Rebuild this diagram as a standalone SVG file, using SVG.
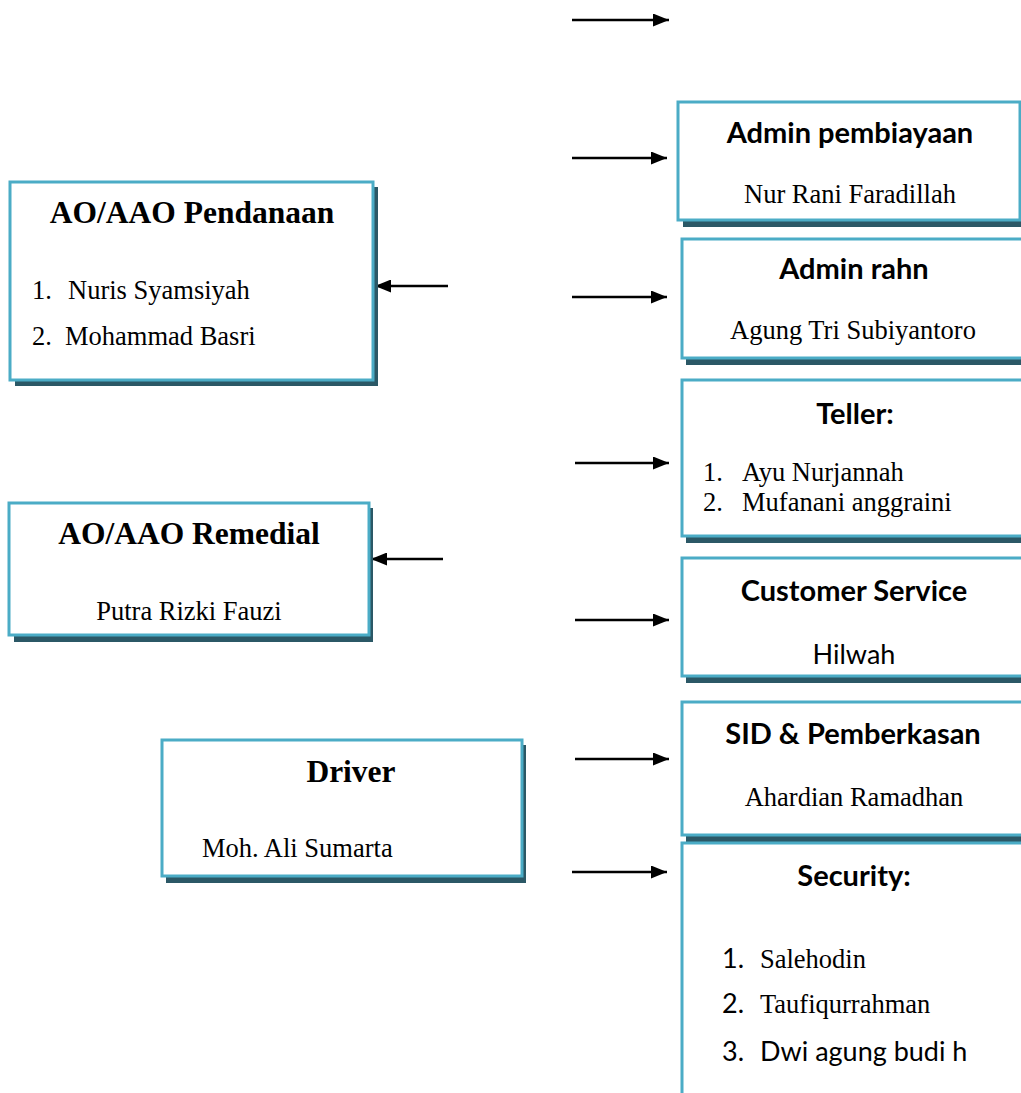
<svg xmlns="http://www.w3.org/2000/svg" width="1021" height="1093" viewBox="0 0 1021 1093">
<defs>
<marker id="ah" markerWidth="16" markerHeight="13" refX="16" refY="6.5" orient="auto" markerUnits="userSpaceOnUse">
<path d="M0,0 L16,6.5 L0,13 Z" fill="#000"/>
</marker>
</defs>
<style>
.sh{fill:#2b5866}
.bx{fill:#fff;stroke:#4bacc6;stroke-width:3}
.tt{font-family:"Liberation Serif",serif;font-weight:bold;font-size:31.5px;fill:#000}
.tr{font-family:"Liberation Serif",serif;font-size:26.5px;fill:#000}
.cb{font-family:Lato,"Open Sans",sans-serif;font-weight:bold;font-size:29px;fill:#000}
.cr{font-family:Lato,"Open Sans",sans-serif;font-size:27px;fill:#000}
.c{text-anchor:middle}
.ln{stroke:#000;stroke-width:2.5;fill:none;marker-end:url(#ah)}
</style>
<rect width="1021" height="1093" fill="#fff"/>
<g id="connectors">
<line class="ln" x1="572" y1="20" x2="669" y2="20"/>
<line class="ln" x1="572" y1="158" x2="667" y2="158"/>
<line class="ln" x1="572" y1="297" x2="667" y2="297"/>
<line class="ln" x1="575" y1="463" x2="669" y2="463"/>
<line class="ln" x1="575" y1="620" x2="669" y2="620"/>
<line class="ln" x1="575" y1="759" x2="669" y2="759"/>
<line class="ln" x1="572" y1="872" x2="667" y2="872"/>
<line class="ln" x1="448" y1="286" x2="375" y2="286"/>
<line class="ln" x1="443" y1="559" x2="371" y2="559"/>
</g>
<g id="ao-pendanaan">
<rect class="sh" x="15" y="187" width="363" height="199"/>
<rect class="bx" x="10" y="182" width="363" height="198"/>
<text class="tt c" x="192" y="223">AO/AAO Pendanaan</text>
<text class="tr" x="32" y="299">1.</text><text class="tr" x="68" y="299">Nuris Syamsiyah</text>
<text class="tr" x="32" y="345">2.</text><text class="tr" x="65" y="345">Mohammad Basri</text>
</g>
<g id="ao-remedial">
<rect class="sh" x="14" y="508" width="359" height="134"/>
<rect class="bx" x="9" y="503" width="360" height="132"/>
<text class="tt c" x="189" y="544">AO/AAO Remedial</text>
<text class="tr c" x="189" y="620">Putra Rizki Fauzi</text>
</g>
<g id="driver">
<rect class="sh" x="166" y="745" width="360" height="138"/>
<rect class="bx" x="162" y="740" width="360" height="136"/>
<text class="tt c" x="351" y="782">Driver</text>
<text class="tr" x="202" y="857">Moh. Ali Sumarta</text>
</g>
<g id="admin-pembiayaan">
<rect class="sh" x="683" y="106" width="338" height="121"/>
<rect class="bx" x="678" y="102" width="342" height="118"/>
<text class="cb c" x="850" y="143">Admin pembiayaan</text>
<text class="tr c" x="850" y="203">Nur Rani Faradillah</text>
</g>
<g id="admin-rahn">
<rect class="sh" x="686" y="243" width="340" height="122"/>
<rect class="bx" x="682" y="239" width="345" height="119"/>
<text class="cb c" x="854" y="279">Admin rahn</text>
<text class="tr c" x="853" y="339">Agung Tri Subiyantoro</text>
</g>
<g id="teller">
<rect class="sh" x="686" y="385" width="340" height="158"/>
<rect class="bx" x="682" y="380" width="345" height="156"/>
<text class="cb c" x="855" y="424">Teller:</text>
<text class="tr" x="703" y="481">1.</text><text class="tr" x="742" y="481">Ayu Nurjannah</text>
<text class="tr" x="703" y="511">2.</text><text class="tr" x="742" y="511">Mufanani anggraini</text>
</g>
<g id="customer-service">
<rect class="sh" x="686" y="563" width="340" height="120"/>
<rect class="bx" x="682" y="558" width="345" height="118"/>
<text class="cb c" x="854" y="601">Customer Service</text>
<text class="cr c" x="854" y="664">Hilwah</text>
</g>
<g id="sid">
<rect class="sh" x="686" y="707" width="340" height="138"/>
<rect class="bx" x="682" y="702" width="345" height="133"/>
<text class="cb c" x="853" y="744">SID &amp; Pemberkasan</text>
<text class="tr c" x="854" y="806">Ahardian Ramadhan</text>
</g>
<g id="security">
<rect class="bx" x="682" y="843" width="345" height="260"/>
<text class="cb c" x="854" y="886">Security:</text>
<text class="cr" x="722" y="968">1.</text><text class="tr" x="760" y="968">Salehodin</text>
<text class="cr" x="722" y="1013">2.</text><text class="tr" x="760" y="1013">Taufiqurrahman</text>
<text class="cr" x="722" y="1061">3.</text><text class="cr" x="760" y="1061">Dwi agung budi h</text>
</g>
</svg>
